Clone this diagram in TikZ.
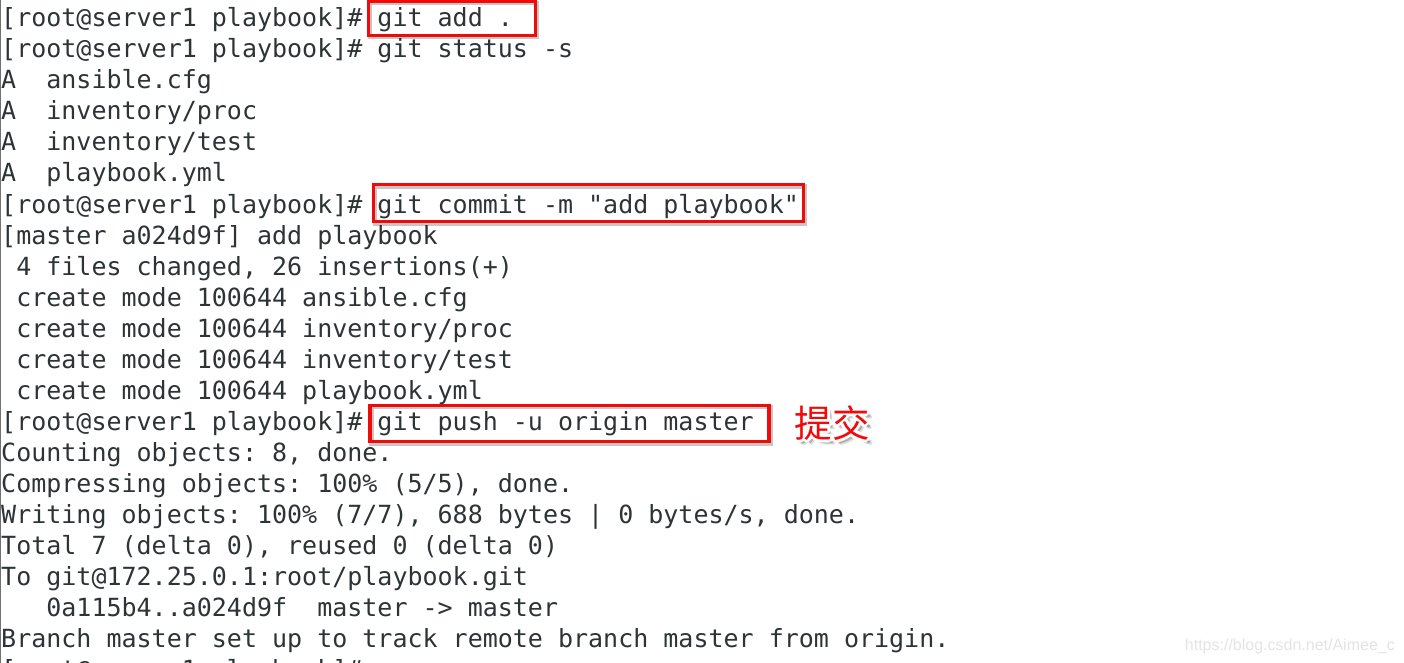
\documentclass[tikz,border=0pt]{standalone}
\usepackage{fontspec}
\newfontfamily\termfont{DejaVu Sans Mono}
\newfontfamily\cjk{Noto Sans CJK SC}
\newfontfamily\markfont{Liberation Sans}
\definecolor{termtext}{RGB}{46,52,54}
\definecolor{boxred}{RGB}{240,10,10}
\definecolor{wmgray}{RGB}{228,228,228}
\tikzset{
  termline/.style={anchor=base west, inner sep=0pt, text=termtext,
    font=\termfont\fontsize{25}{31}\selectfont\frenchspacing},
  redbox/.style={draw=boxred, line width=3.2pt,
    preaction={draw=black, opacity=.22, line width=4.5pt,
      transform canvas={shift={(1.6pt,-1.8pt)}}}},
  cjklabel/.style={font=\cjk\fontsize{37.5}{38}\selectfont},
}
\begin{document}
\begin{tikzpicture}[x=1pt,y=-1pt]
    \useasboundingbox[fill=white] (0,0) rectangle (1404,663);
      % left edge of the terminal
      \draw[termtext!70, line width=1.2pt] (0.6,0) -- (0.6,663);
      % the lines of the terminal
      \node[termline] (l1) at (1,27) {[root@server1 playbook]\#~git add .};
      \node[termline] (l2) at (1,58) {[root@server1 playbook]\#~git status -s};
      \node[termline] (l3) at (1,89) {A~~ansible.cfg};
      \node[termline] (l4) at (1,120) {A~~inventory/proc};
      \node[termline] (l5) at (1,151) {A~~inventory/test};
      \node[termline] (l6) at (1,182) {A~~playbook.yml};
      \node[termline] (l7) at (1,213) {[root@server1 playbook]\#~git commit -m "add playbook"};
      \node[termline] (l8) at (1,244) {[master a024d9f] add playbook};
      \node[termline] (l9) at (1,275) {~4 files changed, 26 insertions(+)};
      \node[termline] (l10) at (1,306) {~create mode 100644 ansible.cfg};
      \node[termline] (l11) at (1,337) {~create mode 100644 inventory/proc};
      \node[termline] (l12) at (1,368) {~create mode 100644 inventory/test};
      \node[termline] (l13) at (1,399) {~create mode 100644 playbook.yml};
      \node[termline] (l14) at (1,430) {[root@server1 playbook]\#~git push -u origin master};
      \node[termline] (l15) at (1,461) {Counting objects: 8, done.};
      \node[termline] (l16) at (1,492) {Compressing objects: 100\% (5/5), done.};
      \node[termline] (l17) at (1,523) {Writing objects: 100\% (7/7), 688 bytes | 0 bytes/s, done.};
      \node[termline] (l18) at (1,554) {Total 7 (delta 0), reused 0 (delta 0)};
      \node[termline] (l19) at (1,585) {To git@172.25.0.1:root/playbook.git};
      \node[termline] (l20) at (1,616) {~~~0a115b4..a024d9f~~master -> master};
      \node[termline] (l21) at (1,647) {Branch master set up to track remote branch master from origin.};
      \node[termline] (l22) at (1,678) {[root@server1 playbook]\#};
      % the marked commands
      \draw[redbox] (368.3,1.4) rectangle (535.4,35.2);
      \draw[redbox] (373.5,184.5) rectangle (803.5,221.5);
      \draw[redbox] (370,405.2) rectangle (769,441.5);
      % label beside the push
      \foreach \dx/\dy in {2.5/2.5,4/3,3/4.5,5/5}
        \node[cjklabel, text=black, opacity=.14, xshift=\dx pt, yshift=-\dy pt] at (832,423) {提交};
      \foreach \a in {0,30,...,330}
        \node[cjklabel, text=white, shift={(\a:3)}] at (832,423) {提交};
      \node[cjklabel, text=boxred] (push) at (832,423) {提交};
      % watermark
      \node[anchor=base east, inner sep=0pt, text=wmgray, font=\markfont\fontsize{16}{16}\selectfont] (mark) at (1395,650) {https://blog.csdn.net/Aimee\_c};
    \end{tikzpicture}
\end{document}
